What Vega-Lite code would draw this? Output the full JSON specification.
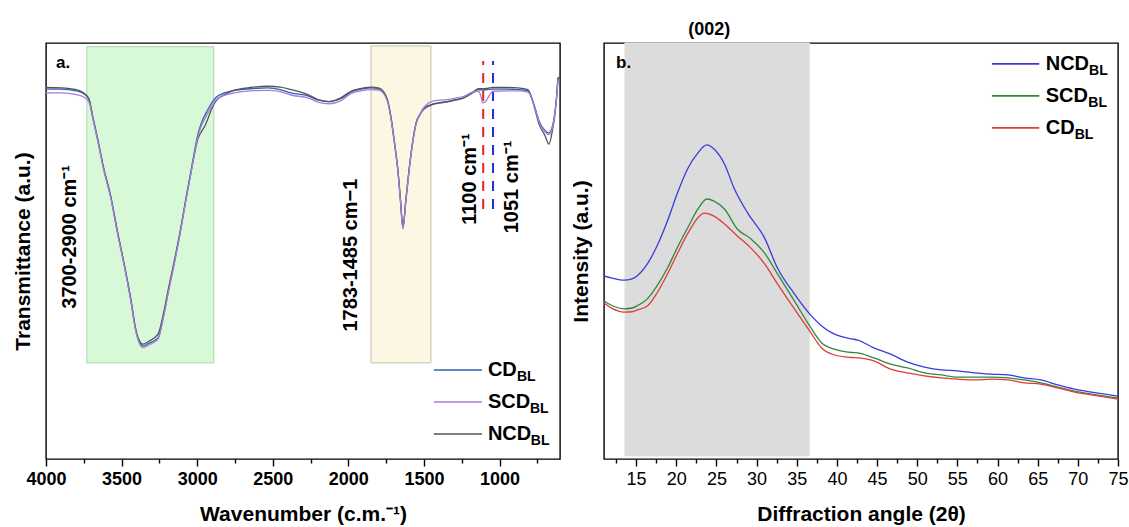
{
  "$schema": "https://vega.github.io/schema/vega-lite/v6.json",
  "padding": {"left": 11, "top": 20, "right": 2, "bottom": 2},
  "bounds": "flush",
  "spacing": 44,
  "resolve": {"scale": {"color": "independent", "x": "independent", "y": "independent"}},
  "config": {
    "font": "Liberation Sans",
    "view": {"stroke": "#000", "strokeWidth": 1.4},
    "text": {"font": "Liberation Sans", "fontWeight": "bold", "color": "#000"}
  },
  "datasets": {
    "ftir": [
      {"wn":4000,"t":88.9,"s":"CD_BL"},{"wn":3900,"t":88.9,"s":"CD_BL"},{"wn":3800,"t":88.5,"s":"CD_BL"},{"wn":3750,"t":87.8,"s":"CD_BL"},{"wn":3716,"t":86.5,"s":"CD_BL"},{"wn":3690,"t":82,"s":"CD_BL"},{"wn":3656,"t":76.4,"s":"CD_BL"},{"wn":3620,"t":70,"s":"CD_BL"},{"wn":3570,"t":62.7,"s":"CD_BL"},{"wn":3530,"t":55,"s":"CD_BL"},{"wn":3484,"t":46.9,"s":"CD_BL"},{"wn":3440,"t":38.5,"s":"CD_BL"},{"wn":3405,"t":30.8,"s":"CD_BL"},{"wn":3380,"t":28,"s":"CD_BL"},{"wn":3359,"t":27.2,"s":"CD_BL"},{"wn":3320,"t":27.8,"s":"CD_BL"},{"wn":3259,"t":29.1,"s":"CD_BL"},{"wn":3220,"t":34.9,"s":"CD_BL"},{"wn":3190,"t":40.5,"s":"CD_BL"},{"wn":3153,"t":46.9,"s":"CD_BL"},{"wn":3110,"t":55,"s":"CD_BL"},{"wn":3074,"t":62.7,"s":"CD_BL"},{"wn":3035,"t":70.5,"s":"CD_BL"},{"wn":2995,"t":78.1,"s":"CD_BL"},{"wn":2975,"t":80.5,"s":"CD_BL"},{"wn":2929,"t":84,"s":"CD_BL"},{"wn":2900,"t":85.8,"s":"CD_BL"},{"wn":2876,"t":86.9,"s":"CD_BL"},{"wn":2820,"t":88,"s":"CD_BL"},{"wn":2757,"t":88.6,"s":"CD_BL"},{"wn":2650,"t":89,"s":"CD_BL"},{"wn":2532,"t":89.2,"s":"CD_BL"},{"wn":2450,"t":88.8,"s":"CD_BL"},{"wn":2380,"t":88,"s":"CD_BL"},{"wn":2267,"t":87.3,"s":"CD_BL"},{"wn":2200,"t":86.3,"s":"CD_BL"},{"wn":2128,"t":85.9,"s":"CD_BL"},{"wn":2050,"t":86.6,"s":"CD_BL"},{"wn":1983,"t":88.2,"s":"CD_BL"},{"wn":1900,"t":89,"s":"CD_BL"},{"wn":1850,"t":89.2,"s":"CD_BL"},{"wn":1800,"t":89,"s":"CD_BL"},{"wn":1765,"t":88,"s":"CD_BL"},{"wn":1740,"t":86,"s":"CD_BL"},{"wn":1718,"t":82,"s":"CD_BL"},{"wn":1695,"t":76,"s":"CD_BL"},{"wn":1672,"t":69.2,"s":"CD_BL"},{"wn":1655,"t":62,"s":"CD_BL"},{"wn":1639,"t":55.5,"s":"CD_BL"},{"wn":1620,"t":62,"s":"CD_BL"},{"wn":1599,"t":69.2,"s":"CD_BL"},{"wn":1575,"t":76,"s":"CD_BL"},{"wn":1553,"t":80.5,"s":"CD_BL"},{"wn":1525,"t":82.8,"s":"CD_BL"},{"wn":1500,"t":84.1,"s":"CD_BL"},{"wn":1434,"t":85.3,"s":"CD_BL"},{"wn":1350,"t":85.8,"s":"CD_BL"},{"wn":1300,"t":86.2,"s":"CD_BL"},{"wn":1235,"t":86.8,"s":"CD_BL"},{"wn":1169,"t":88.2,"s":"CD_BL"},{"wn":1140,"t":88.8,"s":"CD_BL"},{"wn":1110,"t":88.7,"s":"CD_BL"},{"wn":1080,"t":88.8,"s":"CD_BL"},{"wn":1044,"t":88.9,"s":"CD_BL"},{"wn":950,"t":88.9,"s":"CD_BL"},{"wn":880,"t":88.8,"s":"CD_BL"},{"wn":812,"t":88.5,"s":"CD_BL"},{"wn":770,"t":85,"s":"CD_BL"},{"wn":739,"t":81.3,"s":"CD_BL"},{"wn":700,"t":79,"s":"CD_BL"},{"wn":673,"t":78.4,"s":"CD_BL"},{"wn":650,"t":80,"s":"CD_BL"},{"wn":635,"t":83,"s":"CD_BL"},{"wn":620,"t":88,"s":"CD_BL"},{"wn":613,"t":91.3,"s":"CD_BL"},{"wn":605,"t":91.5,"s":"CD_BL"},

      {"wn":4000,"t":89.3,"s":"NCD_BL"},{"wn":3900,"t":89.2,"s":"NCD_BL"},{"wn":3800,"t":88.8,"s":"NCD_BL"},{"wn":3750,"t":88.0,"s":"NCD_BL"},{"wn":3716,"t":86.5,"s":"NCD_BL"},{"wn":3690,"t":82.2,"s":"NCD_BL"},{"wn":3656,"t":76.6,"s":"NCD_BL"},{"wn":3620,"t":70.2,"s":"NCD_BL"},{"wn":3570,"t":62.9,"s":"NCD_BL"},{"wn":3530,"t":55.2,"s":"NCD_BL"},{"wn":3484,"t":47.1,"s":"NCD_BL"},{"wn":3440,"t":38.7,"s":"NCD_BL"},{"wn":3405,"t":31,"s":"NCD_BL"},{"wn":3380,"t":28.3,"s":"NCD_BL"},{"wn":3359,"t":27.6,"s":"NCD_BL"},{"wn":3320,"t":28.3,"s":"NCD_BL"},{"wn":3259,"t":30,"s":"NCD_BL"},{"wn":3220,"t":35.5,"s":"NCD_BL"},{"wn":3190,"t":41,"s":"NCD_BL"},{"wn":3153,"t":47.3,"s":"NCD_BL"},{"wn":3110,"t":55.2,"s":"NCD_BL"},{"wn":3074,"t":62.5,"s":"NCD_BL"},{"wn":3035,"t":70,"s":"NCD_BL"},{"wn":2995,"t":77,"s":"NCD_BL"},{"wn":2975,"t":78.5,"s":"NCD_BL"},{"wn":2950,"t":80,"s":"NCD_BL"},{"wn":2929,"t":81.8,"s":"NCD_BL"},{"wn":2900,"t":84.5,"s":"NCD_BL"},{"wn":2876,"t":86,"s":"NCD_BL"},{"wn":2820,"t":87.6,"s":"NCD_BL"},{"wn":2757,"t":88.6,"s":"NCD_BL"},{"wn":2650,"t":89.3,"s":"NCD_BL"},{"wn":2532,"t":89.6,"s":"NCD_BL"},{"wn":2450,"t":89.4,"s":"NCD_BL"},{"wn":2380,"t":88.8,"s":"NCD_BL"},{"wn":2267,"t":87.6,"s":"NCD_BL"},{"wn":2200,"t":86.4,"s":"NCD_BL"},{"wn":2128,"t":85.9,"s":"NCD_BL"},{"wn":2050,"t":86.8,"s":"NCD_BL"},{"wn":1983,"t":88.4,"s":"NCD_BL"},{"wn":1900,"t":89.2,"s":"NCD_BL"},{"wn":1850,"t":89.4,"s":"NCD_BL"},{"wn":1800,"t":89.2,"s":"NCD_BL"},{"wn":1765,"t":88.2,"s":"NCD_BL"},{"wn":1740,"t":86.2,"s":"NCD_BL"},{"wn":1718,"t":82.2,"s":"NCD_BL"},{"wn":1695,"t":76.2,"s":"NCD_BL"},{"wn":1672,"t":69.4,"s":"NCD_BL"},{"wn":1655,"t":62.2,"s":"NCD_BL"},{"wn":1639,"t":55.8,"s":"NCD_BL"},{"wn":1620,"t":62.2,"s":"NCD_BL"},{"wn":1599,"t":69.4,"s":"NCD_BL"},{"wn":1575,"t":76.2,"s":"NCD_BL"},{"wn":1553,"t":80.7,"s":"NCD_BL"},{"wn":1525,"t":83,"s":"NCD_BL"},{"wn":1500,"t":84.3,"s":"NCD_BL"},{"wn":1434,"t":85.4,"s":"NCD_BL"},{"wn":1350,"t":85.9,"s":"NCD_BL"},{"wn":1300,"t":86.3,"s":"NCD_BL"},{"wn":1235,"t":86.9,"s":"NCD_BL"},{"wn":1169,"t":88.4,"s":"NCD_BL"},{"wn":1140,"t":89,"s":"NCD_BL"},{"wn":1110,"t":89,"s":"NCD_BL"},{"wn":1080,"t":89.1,"s":"NCD_BL"},{"wn":1044,"t":89.3,"s":"NCD_BL"},{"wn":950,"t":89.3,"s":"NCD_BL"},{"wn":880,"t":89.2,"s":"NCD_BL"},{"wn":812,"t":88.8,"s":"NCD_BL"},{"wn":770,"t":84.6,"s":"NCD_BL"},{"wn":739,"t":80.5,"s":"NCD_BL"},{"wn":700,"t":77.8,"s":"NCD_BL"},{"wn":673,"t":75.7,"s":"NCD_BL"},{"wn":650,"t":79,"s":"NCD_BL"},{"wn":635,"t":82.5,"s":"NCD_BL"},{"wn":620,"t":88,"s":"NCD_BL"},{"wn":613,"t":91.6,"s":"NCD_BL"},{"wn":605,"t":91.8,"s":"NCD_BL"},

      {"wn":4000,"t":88.0,"s":"SCD_BL"},{"wn":3900,"t":88.0,"s":"SCD_BL"},{"wn":3800,"t":87.6,"s":"SCD_BL"},{"wn":3750,"t":87.0,"s":"SCD_BL"},{"wn":3716,"t":85.8,"s":"SCD_BL"},{"wn":3690,"t":81.8,"s":"SCD_BL"},{"wn":3656,"t":76.2,"s":"SCD_BL"},{"wn":3620,"t":69.8,"s":"SCD_BL"},{"wn":3570,"t":62.5,"s":"SCD_BL"},{"wn":3530,"t":54.8,"s":"SCD_BL"},{"wn":3484,"t":46.7,"s":"SCD_BL"},{"wn":3440,"t":38.2,"s":"SCD_BL"},{"wn":3405,"t":30.5,"s":"SCD_BL"},{"wn":3380,"t":27.6,"s":"SCD_BL"},{"wn":3359,"t":26.8,"s":"SCD_BL"},{"wn":3320,"t":27.4,"s":"SCD_BL"},{"wn":3259,"t":28.8,"s":"SCD_BL"},{"wn":3220,"t":34.6,"s":"SCD_BL"},{"wn":3190,"t":40.2,"s":"SCD_BL"},{"wn":3153,"t":46.6,"s":"SCD_BL"},{"wn":3110,"t":54.7,"s":"SCD_BL"},{"wn":3074,"t":62.3,"s":"SCD_BL"},{"wn":3035,"t":70,"s":"SCD_BL"},{"wn":2995,"t":77.6,"s":"SCD_BL"},{"wn":2975,"t":79.8,"s":"SCD_BL"},{"wn":2929,"t":83.2,"s":"SCD_BL"},{"wn":2900,"t":85,"s":"SCD_BL"},{"wn":2876,"t":86.3,"s":"SCD_BL"},{"wn":2820,"t":87.4,"s":"SCD_BL"},{"wn":2757,"t":88,"s":"SCD_BL"},{"wn":2650,"t":88.5,"s":"SCD_BL"},{"wn":2532,"t":88.6,"s":"SCD_BL"},{"wn":2450,"t":88.3,"s":"SCD_BL"},{"wn":2380,"t":87.5,"s":"SCD_BL"},{"wn":2267,"t":86.8,"s":"SCD_BL"},{"wn":2200,"t":85.8,"s":"SCD_BL"},{"wn":2128,"t":85.4,"s":"SCD_BL"},{"wn":2050,"t":86.1,"s":"SCD_BL"},{"wn":1983,"t":87.8,"s":"SCD_BL"},{"wn":1900,"t":88.6,"s":"SCD_BL"},{"wn":1850,"t":88.8,"s":"SCD_BL"},{"wn":1800,"t":88.7,"s":"SCD_BL"},{"wn":1765,"t":87.8,"s":"SCD_BL"},{"wn":1740,"t":85.8,"s":"SCD_BL"},{"wn":1718,"t":81.8,"s":"SCD_BL"},{"wn":1695,"t":75.8,"s":"SCD_BL"},{"wn":1672,"t":69,"s":"SCD_BL"},{"wn":1655,"t":61.8,"s":"SCD_BL"},{"wn":1639,"t":55.3,"s":"SCD_BL"},{"wn":1620,"t":61.8,"s":"SCD_BL"},{"wn":1599,"t":69,"s":"SCD_BL"},{"wn":1575,"t":75.8,"s":"SCD_BL"},{"wn":1553,"t":80.4,"s":"SCD_BL"},{"wn":1525,"t":83,"s":"SCD_BL"},{"wn":1500,"t":84.5,"s":"SCD_BL"},{"wn":1434,"t":86.1,"s":"SCD_BL"},{"wn":1350,"t":86.4,"s":"SCD_BL"},{"wn":1300,"t":86.7,"s":"SCD_BL"},{"wn":1235,"t":87.2,"s":"SCD_BL"},{"wn":1169,"t":88.3,"s":"SCD_BL"},{"wn":1140,"t":88.4,"s":"SCD_BL"},{"wn":1125,"t":87.5,"s":"SCD_BL"},{"wn":1110,"t":85.6,"s":"SCD_BL"},{"wn":1095,"t":85.8,"s":"SCD_BL"},{"wn":1080,"t":86.6,"s":"SCD_BL"},{"wn":1060,"t":87.8,"s":"SCD_BL"},{"wn":1044,"t":88.4,"s":"SCD_BL"},{"wn":950,"t":88.5,"s":"SCD_BL"},{"wn":880,"t":88.5,"s":"SCD_BL"},{"wn":812,"t":88.2,"s":"SCD_BL"},{"wn":770,"t":84.8,"s":"SCD_BL"},{"wn":739,"t":81,"s":"SCD_BL"},{"wn":700,"t":78.6,"s":"SCD_BL"},{"wn":673,"t":78,"s":"SCD_BL"},{"wn":650,"t":79.6,"s":"SCD_BL"},{"wn":635,"t":82.8,"s":"SCD_BL"},{"wn":620,"t":87.8,"s":"SCD_BL"},{"wn":613,"t":91,"s":"SCD_BL"},{"wn":605,"t":91.2,"s":"SCD_BL"}
    ],
    "xrd": [
      {"a":11.0,"i":44.0,"s":"NCD_BL"},{"a":12.0,"i":43.5,"s":"NCD_BL"},{"a":13.5,"i":43.0,"s":"NCD_BL"},{"a":14.5,"i":43.3,"s":"NCD_BL"},{"a":15.1,"i":44.0,"s":"NCD_BL"},{"a":16.4,"i":46.9,"s":"NCD_BL"},{"a":17.6,"i":51.2,"s":"NCD_BL"},{"a":18.9,"i":57.2,"s":"NCD_BL"},{"a":20.1,"i":63.7,"s":"NCD_BL"},{"a":21.4,"i":69.7,"s":"NCD_BL"},{"a":22.7,"i":73.6,"s":"NCD_BL"},{"a":23.8,"i":75.5,"s":"NCD_BL"},{"a":24.7,"i":74.5,"s":"NCD_BL"},{"a":26.0,"i":70.9,"s":"NCD_BL"},{"a":27.2,"i":65.1,"s":"NCD_BL"},{"a":28.9,"i":59.1,"s":"NCD_BL"},{"a":31.0,"i":53.1,"s":"NCD_BL"},{"a":32.6,"i":45.9,"s":"NCD_BL"},{"a":34.7,"i":39.7,"s":"NCD_BL"},{"a":36.6,"i":34.9,"s":"NCD_BL"},{"a":38.1,"i":32.0,"s":"NCD_BL"},{"a":39.7,"i":30.0,"s":"NCD_BL"},{"a":41.8,"i":28.9,"s":"NCD_BL"},{"a":42.6,"i":28.6,"s":"NCD_BL"},{"a":44.6,"i":26.7,"s":"NCD_BL"},{"a":46.7,"i":25.2,"s":"NCD_BL"},{"a":48.8,"i":23.3,"s":"NCD_BL"},{"a":50.9,"i":22.1,"s":"NCD_BL"},{"a":53.0,"i":21.4,"s":"NCD_BL"},{"a":55.0,"i":21.2,"s":"NCD_BL"},{"a":57.1,"i":20.7,"s":"NCD_BL"},{"a":59.2,"i":20.4,"s":"NCD_BL"},{"a":61.3,"i":20.2,"s":"NCD_BL"},{"a":63.3,"i":19.5,"s":"NCD_BL"},{"a":65.4,"i":19.0,"s":"NCD_BL"},{"a":67.5,"i":17.8,"s":"NCD_BL"},{"a":69.6,"i":16.8,"s":"NCD_BL"},{"a":71.7,"i":16.1,"s":"NCD_BL"},{"a":75.0,"i":15.1,"s":"NCD_BL"},

      {"a":11.0,"i":38.0,"s":"SCD_BL"},{"a":12.0,"i":36.9,"s":"SCD_BL"},{"a":13.5,"i":36.1,"s":"SCD_BL"},{"a":14.5,"i":36.3,"s":"SCD_BL"},{"a":15.1,"i":36.8,"s":"SCD_BL"},{"a":16.4,"i":38.5,"s":"SCD_BL"},{"a":17.6,"i":41.6,"s":"SCD_BL"},{"a":18.9,"i":45.9,"s":"SCD_BL"},{"a":20.1,"i":50.7,"s":"SCD_BL"},{"a":21.4,"i":55.5,"s":"SCD_BL"},{"a":22.7,"i":60.1,"s":"SCD_BL"},{"a":23.8,"i":62.5,"s":"SCD_BL"},{"a":24.7,"i":62.0,"s":"SCD_BL"},{"a":26.0,"i":60.1,"s":"SCD_BL"},{"a":27.6,"i":55.3,"s":"SCD_BL"},{"a":29.3,"i":52.9,"s":"SCD_BL"},{"a":31.0,"i":49.5,"s":"SCD_BL"},{"a":32.6,"i":44.5,"s":"SCD_BL"},{"a":34.7,"i":38.0,"s":"SCD_BL"},{"a":36.6,"i":32.0,"s":"SCD_BL"},{"a":38.1,"i":27.9,"s":"SCD_BL"},{"a":39.7,"i":26.4,"s":"SCD_BL"},{"a":41.8,"i":25.6,"s":"SCD_BL"},{"a":42.6,"i":25.5,"s":"SCD_BL"},{"a":44.6,"i":24.3,"s":"SCD_BL"},{"a":46.7,"i":22.8,"s":"SCD_BL"},{"a":48.8,"i":21.9,"s":"SCD_BL"},{"a":50.9,"i":20.7,"s":"SCD_BL"},{"a":53.0,"i":20.2,"s":"SCD_BL"},{"a":55.0,"i":19.7,"s":"SCD_BL"},{"a":57.1,"i":19.7,"s":"SCD_BL"},{"a":59.2,"i":19.7,"s":"SCD_BL"},{"a":61.3,"i":19.5,"s":"SCD_BL"},{"a":63.3,"i":19.0,"s":"SCD_BL"},{"a":65.4,"i":18.3,"s":"SCD_BL"},{"a":67.5,"i":17.3,"s":"SCD_BL"},{"a":69.6,"i":16.3,"s":"SCD_BL"},{"a":71.7,"i":15.6,"s":"SCD_BL"},{"a":75.0,"i":14.7,"s":"SCD_BL"},

      {"a":11.0,"i":37.5,"s":"CD_BL"},{"a":12.0,"i":36.2,"s":"CD_BL"},{"a":13.5,"i":35.3,"s":"CD_BL"},{"a":14.5,"i":35.4,"s":"CD_BL"},{"a":15.1,"i":35.8,"s":"CD_BL"},{"a":16.4,"i":36.8,"s":"CD_BL"},{"a":17.6,"i":39.9,"s":"CD_BL"},{"a":18.9,"i":44.5,"s":"CD_BL"},{"a":20.1,"i":49.2,"s":"CD_BL"},{"a":21.4,"i":54.1,"s":"CD_BL"},{"a":22.7,"i":58.0,"s":"CD_BL"},{"a":23.5,"i":59.1,"s":"CD_BL"},{"a":24.7,"i":58.4,"s":"CD_BL"},{"a":26.0,"i":56.5,"s":"CD_BL"},{"a":27.6,"i":53.6,"s":"CD_BL"},{"a":29.3,"i":50.7,"s":"CD_BL"},{"a":31.0,"i":46.9,"s":"CD_BL"},{"a":32.6,"i":42.1,"s":"CD_BL"},{"a":34.7,"i":36.1,"s":"CD_BL"},{"a":36.6,"i":30.8,"s":"CD_BL"},{"a":38.1,"i":26.7,"s":"CD_BL"},{"a":39.7,"i":25.0,"s":"CD_BL"},{"a":41.8,"i":24.4,"s":"CD_BL"},{"a":42.6,"i":24.3,"s":"CD_BL"},{"a":44.6,"i":23.6,"s":"CD_BL"},{"a":46.7,"i":21.6,"s":"CD_BL"},{"a":48.8,"i":20.7,"s":"CD_BL"},{"a":50.9,"i":20.0,"s":"CD_BL"},{"a":53.0,"i":19.5,"s":"CD_BL"},{"a":55.0,"i":19.2,"s":"CD_BL"},{"a":57.1,"i":19.0,"s":"CD_BL"},{"a":59.2,"i":19.2,"s":"CD_BL"},{"a":61.3,"i":19.0,"s":"CD_BL"},{"a":63.3,"i":18.3,"s":"CD_BL"},{"a":65.4,"i":18.0,"s":"CD_BL"},{"a":67.5,"i":17.1,"s":"CD_BL"},{"a":69.6,"i":16.1,"s":"CD_BL"},{"a":71.7,"i":15.4,"s":"CD_BL"},{"a":75.0,"i":14.4,"s":"CD_BL"}
    ]
  },
  "hconcat": [
    {
      "width": 514,
      "height": 416,
      "encoding": {
        "x": {"type": "quantitative", "scale": {"domain": [600, 4000], "reverse": true, "nice": false, "zero": false},
          "axis": {"title": "Wavenumber (c.m.⁻¹)", "titleFontSize": 21, "titleFontWeight": "bold", "titlePadding": 15,
            "values": [4000,3750,3500,3250,3000,2750,2500,2250,2000,1750,1500,1250,1000,750],
            "format": "d", "labelExpr": "datum.value % 500 === 0 ? datum.label : ''", "labelOverlap": false, "labelFlush": false,
            "labelFontSize": 18, "labelFontWeight": "bold", "labelColor": "#000", "labelPadding": 4,
            "domain": false, "grid": false, "tickColor": "#000", "tickWidth": 1.4,
            "tickSize": {"condition": {"test": "datum.value % 500 === 0", "value": 7}, "value": 4}}},
        "y": {"type": "quantitative", "scale": {"domain": [0, 100], "nice": false, "zero": false},
          "axis": {"title": "Transmittance (a.u.)", "titleFontSize": 21, "titleFontWeight": "bold", "titlePadding": 13,
            "labels": false, "ticks": false, "domain": false, "grid": false, "minExtent": 0}}
      },
      "layer": [
        {
          "data": {"values": [
            {"box": "OH", "x1": 3730, "x2": 2890, "y1": 23.1, "y2": 99.1},
            {"box": "CO", "x1": 1850, "x2": 1454, "y1": 23.1, "y2": 99.3}
          ]},
          "mark": {"type": "rect", "strokeWidth": 1},
          "encoding": {
            "x": {"field": "x1"}, "x2": {"field": "x2"},
            "y": {"field": "y1"}, "y2": {"field": "y2"},
            "fill": {"field": "box", "type": "nominal", "scale": {"domain": ["OH", "CO"], "range": ["#d8f9d8", "#fbf7e2"]}, "legend": null},
            "stroke": {"field": "box", "type": "nominal", "scale": {"domain": ["OH", "CO"], "range": ["#a8d8a8", "#c8bcb0"]}, "legend": null}
          }
        },
        {
          "data": {"values": [
            {"k": "d1100", "wn": 1108, "y1": 60.1, "y2": 95.7},
            {"k": "d1051", "wn": 1043, "y1": 60.1, "y2": 95.7}
          ]},
          "mark": {"type": "rule", "strokeWidth": 2, "strokeDash": [10, 8]},
          "encoding": {
            "x": {"field": "wn"}, "y": {"field": "y1"}, "y2": {"field": "y2"},
            "color": {"field": "k", "type": "nominal", "scale": {"domain": ["CD_BL", "SCD_BL", "NCD_BL", "d1100", "d1051"], "range": ["#2e62b8", "#a77ed8", "#555555", "#e8202a", "#2a2ae0"]}, "legend": null}
          }
        },
        {
          "data": {"name": "ftir"},
          "mark": {"type": "line", "strokeWidth": 1.3, "interpolate": "monotone", "clip": true},
          "encoding": {
            "x": {"field": "wn"}, "y": {"field": "t"},
            "order": {"field": "wn", "sort": "descending"},
            "color": {"field": "s", "type": "nominal", "scale": {"domain": ["CD_BL", "SCD_BL", "NCD_BL", "d1100", "d1051"], "range": ["#2e62b8", "#a77ed8", "#555555", "#e8202a", "#2a2ae0"]}, "legend": null}
          }
        },
        {
          "data": {"values": [
            {"s": "CD_BL", "main": "CD", "ly": 21.4, "sx": 885},
            {"s": "SCD_BL", "main": "SCD", "ly": 13.7, "sx": 799},
            {"s": "NCD_BL", "main": "NCD", "ly": 6.0, "sx": 793}
          ]},
          "layer": [
            {
              "mark": {"type": "rule", "strokeWidth": 1.5},
              "encoding": {
                "x": {"datum": 1434}, "x2": {"datum": 1116}, "y": {"field": "ly"},
                "color": {"field": "s", "type": "nominal", "scale": {"domain": ["CD_BL", "SCD_BL", "NCD_BL", "d1100", "d1051"], "range": ["#2e62b8", "#a77ed8", "#555555", "#e8202a", "#2a2ae0"]}, "legend": null}
              }
            },
            {
              "mark": {"type": "text", "align": "left", "baseline": "middle", "fontSize": 20},
              "encoding": {"x": {"datum": 1077}, "y": {"field": "ly"}, "text": {"field": "main"}}
            },
            {
              "mark": {"type": "text", "align": "left", "baseline": "middle", "fontSize": 14, "dy": 7},
              "encoding": {"x": {"field": "sx"}, "y": {"field": "ly"}, "text": {"value": "BL"}}
            }
          ]
        },
        {
          "data": {"values": [
            {"label": "3700-2900 cm⁻¹", "x": 3841, "y": 53.4},
            {"label": "1783-1485 cm−1", "x": 1983, "y": 49.0},
            {"label": "1100 cm⁻¹", "x": 1196, "y": 67.3},
            {"label": "1051 cm⁻¹", "x": 918, "y": 65.4}
          ]},
          "mark": {"type": "text", "angle": 270, "align": "center", "baseline": "middle", "fontSize": 20},
          "encoding": {"x": {"field": "x"}, "y": {"field": "y"}, "text": {"field": "label"}}
        },
        {
          "data": {"values": [{"label": "a.", "x": 3934, "y": 95.2}]},
          "mark": {"type": "text", "align": "left", "baseline": "middle", "fontSize": 17},
          "encoding": {"x": {"field": "x"}, "y": {"field": "y"}, "text": {"field": "label"}}
        }
      ]
    },
    {
      "width": 514,
      "height": 416,
      "encoding": {
        "x": {"type": "quantitative", "scale": {"domain": [11, 75], "nice": false, "zero": false},
          "axis": {"title": "Diffraction angle (2θ)", "titleFontSize": 21, "titleFontWeight": "bold", "titlePadding": 15,
            "values": [12.5,15,17.5,20,22.5,25,27.5,30,32.5,35,37.5,40,42.5,45,47.5,50,52.5,55,57.5,60,62.5,65,67.5,70,72.5,75],
            "format": "d", "labelExpr": "datum.value % 5 === 0 ? datum.label : ''", "labelOverlap": false, "labelFlush": false,
            "labelFontSize": 18, "labelFontWeight": "normal", "labelColor": "#000", "labelPadding": 4,
            "domain": false, "grid": false, "tickColor": "#000", "tickWidth": 1.4,
            "tickSize": {"condition": {"test": "datum.value % 5 === 0", "value": 7}, "value": 4}}},
        "y": {"type": "quantitative", "scale": {"domain": [0, 100], "nice": false, "zero": false},
          "axis": {"title": "Intensity (a.u.)", "titleFontSize": 21, "titleFontWeight": "bold", "titlePadding": 13,
            "labels": false, "ticks": false, "domain": false, "grid": false, "minExtent": 0}}
      },
      "layer": [
        {
          "data": {"values": [{"box": "002", "x1": 13.6, "x2": 36.6, "y1": 0.7, "y2": 100}]},
          "mark": {"type": "rect", "fill": "#dcdcdc", "stroke": "#e6e6d6", "strokeWidth": 1},
          "encoding": {"x": {"field": "x1"}, "x2": {"field": "x2"}, "y": {"field": "y1"}, "y2": {"field": "y2"}}
        },
        {
          "data": {"name": "xrd"},
          "mark": {"type": "line", "strokeWidth": 1.3, "interpolate": "monotone", "clip": true},
          "encoding": {
            "x": {"field": "a"}, "y": {"field": "i"},
            "color": {"field": "s", "type": "nominal", "scale": {"domain": ["NCD_BL", "SCD_BL", "CD_BL"], "range": ["#3a3ae0", "#2f8a3c", "#e23b3b"]}, "legend": null}
          }
        },
        {
          "data": {"values": [
            {"s": "NCD_BL", "main": "NCD", "ly": 95.0, "sx": 71.4},
            {"s": "SCD_BL", "main": "SCD", "ly": 87.3, "sx": 71.3},
            {"s": "CD_BL", "main": "CD", "ly": 79.6, "sx": 69.6}
          ]},
          "layer": [
            {
              "mark": {"type": "rule", "strokeWidth": 1.8},
              "encoding": {
                "x": {"datum": 59.3}, "x2": {"datum": 65.2}, "y": {"field": "ly"},
                "color": {"field": "s", "type": "nominal", "scale": {"domain": ["NCD_BL", "SCD_BL", "CD_BL"], "range": ["#3a3ae0", "#2f8a3c", "#e23b3b"]}, "legend": null}
              }
            },
            {
              "mark": {"type": "text", "align": "left", "baseline": "middle", "fontSize": 20},
              "encoding": {"x": {"datum": 66.0}, "y": {"field": "ly"}, "text": {"field": "main"}}
            },
            {
              "mark": {"type": "text", "align": "left", "baseline": "middle", "fontSize": 14, "dy": 7},
              "encoding": {"x": {"field": "sx"}, "y": {"field": "ly"}, "text": {"value": "BL"}}
            }
          ]
        },
        {
          "data": {"values": [
            {"label": "b.", "x": 12.5, "y": 95.2}
          ]},
          "mark": {"type": "text", "align": "left", "baseline": "middle", "fontSize": 17},
          "encoding": {"x": {"field": "x"}, "y": {"field": "y"}, "text": {"field": "label"}}
        },
        {
          "data": {"values": [
            {"label": "(002)", "x": 24.1, "y": 103.1}
          ]},
          "mark": {"type": "text", "align": "center", "baseline": "middle", "fontSize": 18},
          "encoding": {"x": {"field": "x"}, "y": {"field": "y"}, "text": {"field": "label"}}
        }
      ]
    }
  ]
}
